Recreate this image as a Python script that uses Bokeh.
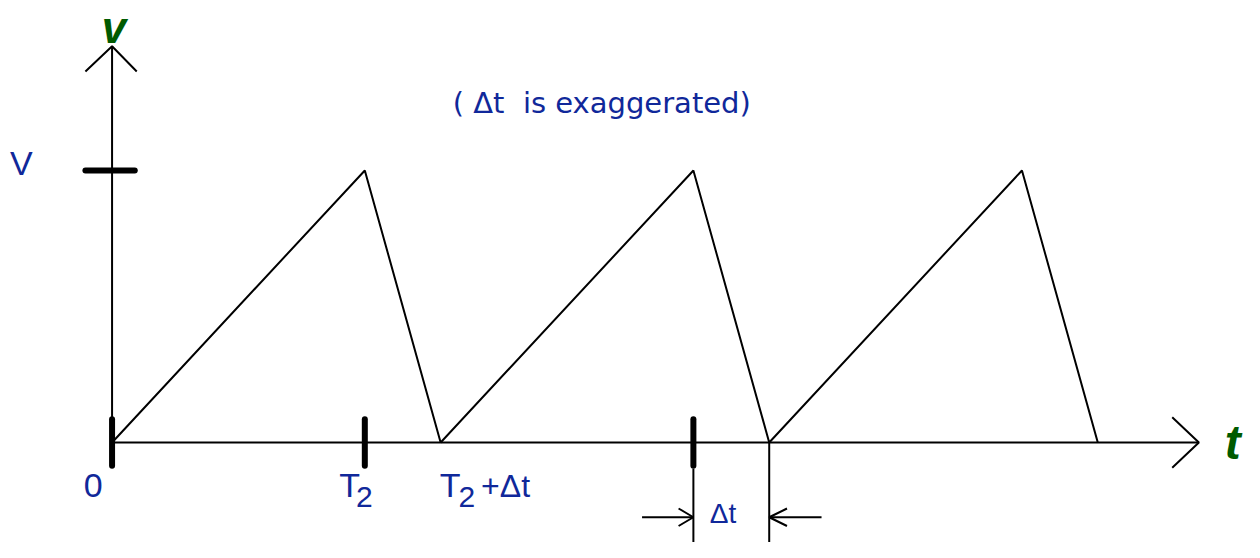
from bokeh.plotting import figure
from bokeh.models import Range1d
from bokeh.core.properties import value
from bokeh.embed import file_html
from bokeh.resources import INLINE

# ---- data (time in units of T2, voltage in units of V) ----
t_points = [0.0, 1.0, 1.3, 2.3, 2.6, 3.6, 3.9]
v_points = [0, 1, 0, 1, 0, 1, 0]
t_ticks = [0.0, 1.0, 2.3]
v_ticks = [1.0]
dt_start, dt_end = 2.3, 2.6
t_axis_end = 4.3
v_axis_end = 1.457

# ---- scales (reference pixels per unit) ----
SX = 256.0   # px per T2
SY = 280.0   # px per V
W, H = 1244, 542
REF_W, REF_H = 1260, 558
OX, OY = 113, 455   # origin location in reference layout

def px(n):
    return n / SX

def py(n):
    return n / SY

p = figure(width=W, height=H, output_backend="svg", toolbar_location=None,
           x_range=Range1d(px(-OX), px(REF_W - OX)), y_range=Range1d(py(OY - REF_H), py(OY)),
           x_axis_type=None, y_axis_type=None, min_border=0, title=None)
p.outline_line_color = None
p.grid.visible = False
p.background_fill_color = "white"
p.border_fill_color = "white"

BLUE = "#10289a"
GREEN = "#005a00"
FONT = value("Liberation Sans")

# axes
p.line([0, t_axis_end], [0, 0], line_color="black", line_width=2)
p.line([0, 0], [0, v_axis_end], line_color="black", line_width=2)
# arrow heads
p.line([t_axis_end - px(27), t_axis_end, t_axis_end - px(27)], [py(26), 0, py(-26)],
       line_color="black", line_width=2)
p.line([px(-27), 0, px(25)], [v_axis_end - py(26), v_axis_end, v_axis_end - py(26)],
       line_color="black", line_width=2)

# sawtooth
p.line(t_points, v_points, line_color="black", line_width=2)

# ticks
p.segment(x0=t_ticks, y0=[py(-24)] * len(t_ticks), x1=t_ticks, y1=[py(24)] * len(t_ticks),
          line_color="black", line_width=6, line_cap="round")
p.segment(x0=[px(-27)] * len(v_ticks), y0=v_ticks, x1=[px(23)] * len(v_ticks), y1=v_ticks,
          line_color="black", line_width=6, line_cap="round")

# delta-t dimension lines
p.segment(x0=[dt_start, dt_end], y0=[py(-27), 0], x1=[dt_start, dt_end], y1=[py(-115), py(-115)],
          line_color="black", line_width=2)
ya = py(-77)
p.line([dt_start - px(52), dt_start], [ya, ya], line_color="black", line_width=2)
p.line([dt_start - px(15), dt_start, dt_start - px(15)], [ya + py(9), ya, ya - py(9)],
       line_color="black", line_width=2)
p.line([dt_end, dt_end + px(53)], [ya, ya], line_color="black", line_width=2)
p.line([dt_end + px(18), dt_end, dt_end + px(18)], [ya + py(9), ya, ya - py(9)],
       line_color="black", line_width=2)

def label(x, y, s, size, color=BLUE, align="left", font=FONT, style="normal"):
    p.text(x=[x], y=[y], text=[s], text_font=font, text_font_style=style,
           text_font_size=size, text_color=color, text_align=align, text_baseline="middle")

# axis titles
label(px(2), py(427), "v", "44px", GREEN, "center", style="bold italic")
label(px(1127), py(0), "t", "48px", GREEN, "left", style="bold italic")

# labels
label(px(-92), py(288), "V", "34px", align="center")
label(px(-19), py(-44), "0", "34px", align="center")
label(t_ticks[1] - px(26), py(-44), "T", "34px")
label(t_ticks[1] - px(9), py(-56), "2", "30px")
label(t_points[2] - px(1), py(-44), "T", "34px")
label(t_points[2] + px(18), py(-56), "2", "30px")
label(t_points[2] + px(41), py(-45), "+Δt", "32px")
label(dt_start + px(30), py(-73), "Δt", "28px", align="center")
label(px(496), py(349), "( Δt \u00a0is exaggerated)", "29px", align="center",
      font=value("DejaVu Sans"))

open("out.html", "w").write(file_html(p, INLINE))
